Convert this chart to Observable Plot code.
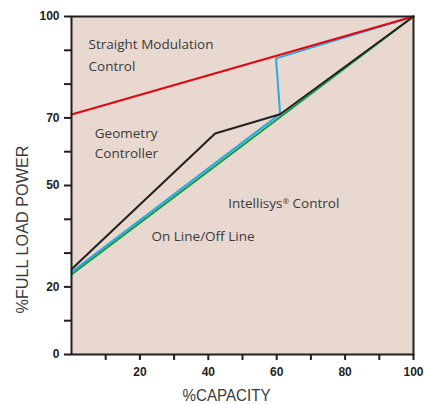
<!DOCTYPE html>
<html>
<head>
<meta charset="utf-8">
<script src="https://cdn.jsdelivr.net/npm/d3@7"></script>
<script src="https://cdn.jsdelivr.net/npm/@observablehq/plot@0.6"></script>
<style>
  html, body { margin: 0; padding: 0; background: #ffffff; }
  #chart { width: 424px; height: 404px; }
</style>
</head>
<body>
<div id="chart"></div>
<script>
// Series: % capacity vs % full load power
const straightX = [0, 100];
const straightY = [71, 100];
const geometryX = [0, 42, 61, 100];
const geometryY = [25.2, 65.4, 71.1, 100];
const intellisysX = [0, 61, 59.8, 100];
const intellisysY = [24.4, 71.2, 87.6, 100];
const onOffX = [0, 100];
const onOffY = [23.7, 100];

// Tick values / labels
const xTicks = [10, 20, 30, 40, 50, 60, 70, 80, 90, 100];
const xLabeled = [20, 40, 60, 80, 100];
const yTicks = [0, 10, 20, 30, 40, 50, 60, 70, 80, 90, 100];
const yLabeled = [0, 20, 50, 70, 100];

// Annotations
const annoText = ["Straight Modulation", "Control", "Geometry", "Controller", "Intellisys® Control", "On Line/Off Line"];
const annoX = [5.0, 5.0, 6.8, 6.8, 45.8, 23.4];
const annoY = [91.7, 85.3, 65.4, 59.3, 44.5, 34.9];

const toPts = (xs, ys) => xs.map((x, i) => ({x, y: ys[i]}));
const series = [
  {pts: toPts(onOffX, onOffY), color: "#17994a"},
  {pts: toPts(intellisysX, intellisysY), color: "#2aa9e0"},
  {pts: toPts(geometryX, geometryY), color: "#231f20"},
  {pts: toPts(straightX, straightY), color: "#e30613"}
];
const annos = annoText.map((t, i) => ({t, x: annoX[i], y: annoY[i]}));

const chart = Plot.plot({
  width: 424,
  height: 404,
  marginLeft: 71,
  marginRight: 11,
  marginTop: 16,
  marginBottom: 50,
  style: {background: "#ffffff", fontFamily: "Liberation Sans, Arial, sans-serif", overflow: "visible"},
  x: {domain: [0, 100]},
  y: {domain: [0, 100]},
  marks: [
    Plot.frame({fill: "#e8d8cf", stroke: "none"}),
    ...series.map(s => Plot.line(s.pts, {x: "x", y: "y", stroke: s.color, strokeWidth: 2, strokeLinejoin: "miter"})),
    Plot.frame({stroke: "#231f20", strokeWidth: 2}),
    Plot.axisX({ticks: xTicks, tickFormat: d => xLabeled.includes(d) ? String(d) : "", tickSize: 6, tickPadding: 7, strokeWidth: 2, color: "#231f20", fontWeight: "bold", fontSize: 12, label: null}),
    Plot.axisY({ticks: yTicks, tickFormat: d => yLabeled.includes(d) ? String(d) : "", tickSize: 7, tickPadding: 5, strokeWidth: 2, color: "#231f20", fontWeight: "bold", fontSize: 12, label: null}),
    Plot.text(annos, {x: "x", y: "y", text: "t", textAnchor: "start", fill: "#3a3a3a", fontSize: 13.5, fontFamily: "Open Sans, sans-serif"}),
    Plot.text(["%FULL LOAD POWER"], {frameAnchor: "left", textAnchor: "middle", lineAnchor: "middle", dx: -48.5, dy: 44, rotate: -90, text: d => d, fill: "#3a3a3a", fontSize: 17, fontFamily: "Liberation Sans, Arial, sans-serif", className: "ylab"}),
    Plot.text(["%CAPACITY"], {frameAnchor: "bottom", textAnchor: "middle", lineAnchor: "middle", dx: -16, dy: 41, text: d => d, fill: "#3a3a3a", fontSize: 16.5, fontFamily: "Liberation Sans, Arial, sans-serif", className: "xlab"})
  ]
});
document.getElementById("chart").appendChild(chart);

// Fit axis titles to the reference widths (narrow face)
d3.select(chart).selectAll(".ylab text").attr("textLength", 168).attr("lengthAdjust", "spacingAndGlyphs");
d3.select(chart).selectAll(".xlab text").attr("textLength", 88).attr("lengthAdjust", "spacingAndGlyphs");

// Superscript the registered mark
d3.select(chart).selectAll("text").each(function() {
  const el = d3.select(this);
  const tspans = el.selectAll("tspan");
  const target = tspans.empty() ? el : tspans;
  target.each(function() {
    const t = d3.select(this);
    const s = t.text();
    if (s.includes("®") && this.childElementCount === 0) {
      const [a, b] = s.split("®");
      t.text(null);
      t.append("tspan").text(a);
      t.append("tspan").attr("font-size", "8").attr("dy", "-4").text("®");
      t.append("tspan").attr("dy", "4").text(b);
    }
  });
});
</script>
</body>
</html>
